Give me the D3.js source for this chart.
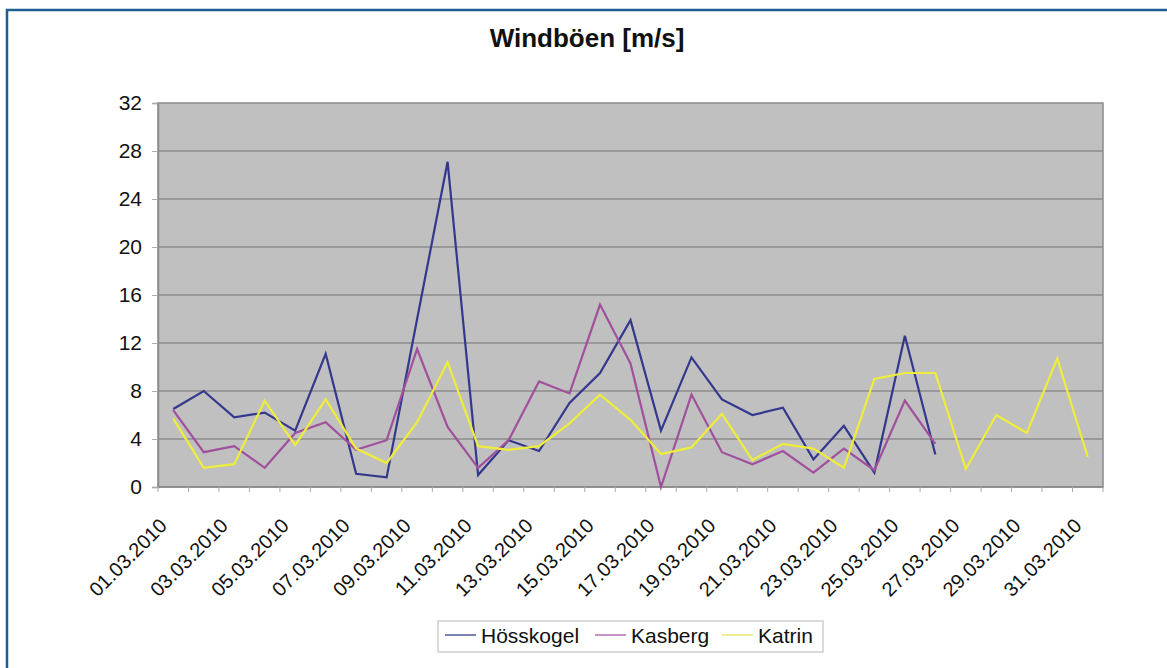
<!DOCTYPE html>
<html>
<head>
<meta charset="utf-8">
<script src="https://cdn.jsdelivr.net/npm/d3@7"></script>
<style>
  body { margin: 0; background: #fff; }
  svg { display: block; font-family: "Liberation Sans", Arial, sans-serif; }
</style>
</head>
<body>
<div id="chart"></div>
<script>
var dates = ["01.03.2010", "02.03.2010", "03.03.2010", "04.03.2010", "05.03.2010",
  "06.03.2010", "07.03.2010", "08.03.2010", "09.03.2010", "10.03.2010",
  "11.03.2010", "12.03.2010", "13.03.2010", "14.03.2010", "15.03.2010",
  "16.03.2010", "17.03.2010", "18.03.2010", "19.03.2010", "20.03.2010",
  "21.03.2010", "22.03.2010", "23.03.2010", "24.03.2010", "25.03.2010",
  "26.03.2010", "27.03.2010", "28.03.2010", "29.03.2010", "30.03.2010",
  "31.03.2010"];

var hoesskogel = [6.5, 8.0, 5.8, 6.2, 4.7, 11.1, 1.1, 0.8, 14.0, 27.1,
  1.0, 3.9, 3.0, 7.0, 9.5, 13.9, 4.7, 10.8, 7.3, 6.0,
  6.6, 2.3, 5.1, 1.2, 12.6, 2.7, null, null, null, null, null];
var kasberg = [6.4, 2.9, 3.4, 1.6, 4.5, 5.4, 3.1, 3.9, 11.5, 5.0,
  1.6, 3.9, 8.8, 7.8, 15.2, 10.3, 0.0, 7.7, 2.9, 1.9,
  3.0, 1.2, 3.2, 1.4, 7.2, 3.6, null, null, null, null, null];
var katrin = [5.7, 1.6, 1.9, 7.2, 3.5, 7.3, 3.2, 2.0, 5.4, 10.4,
  3.4, 3.1, 3.4, 5.3, 7.7, 5.6, 2.75, 3.3, 6.1, 2.25,
  3.6, 3.2, 1.6, 9.0, 9.5, 9.5, 1.5, 6.0, 4.5, 10.7, 2.5];

var seriesNames = ["Hösskogel", "Kasberg", "Katrin"];
var yTicks = [0, 4, 8, 12, 16, 20, 24, 28, 32];

function drawChart() {
  var W = 1167, H = 668,
      pLeft = 158, pRight = 1103, pTop = 103, pBottom = 487;

  var colors = ["#34388c", "#a0509c", "#eeee3a"];
  var legendColors = ["#505a9a", "#b070b0", "#e8e870"];

  var svg = d3.select("#chart").append("svg")
        .attr("width", W)
        .attr("height", H);

  // outer frame (runs off the right and bottom edge like the screenshot)
  svg.append("rect")
    .attr("x", 7).attr("y", 10)
    .attr("width", W + 20).attr("height", H + 20)
    .attr("fill", "#fff")
    .attr("stroke", "#1d5f93")
    .attr("stroke-width", 2.5);

  svg.append("text")
    .attr("x", 587).attr("y", 47)
    .attr("text-anchor", "middle")
    .attr("font-size", 26)
    .attr("font-weight", "bold")
    .attr("fill", "#111")
    .text("Windböen [m/s]");

  var x = d3.scaleBand()
        .domain(dates)
        .range([pLeft, pRight])
        .padding(0);

  var y = d3.scaleLinear()
        .domain([0, 32])
        .range([pBottom, pTop]);

  // plot area
  svg.append("rect")
    .attr("x", pLeft).attr("y", pTop)
    .attr("width", pRight - pLeft).attr("height", pBottom - pTop)
    .attr("fill", "#c0c0c0")
    .attr("stroke", "#8a8a8a")
    .attr("stroke-width", 1.5);

  // gridlines
  svg.append("g")
    .selectAll("line")
    .data(yTicks.filter((d) => d > 0 && d < 32))
    .enter().append("line")
    .attr("x1", pLeft).attr("x2", pRight)
    .attr("y1", (d) => y(d)).attr("y2", (d) => y(d))
    .attr("stroke", "#8c8c8c")
    .attr("stroke-width", 1.5);

  // y axis
  var yAxis = svg.append("g")
        .attr("transform", "translate(" + pLeft + ",0)")
        .call(d3.axisLeft(y).tickValues(yTicks).tickSize(6).tickPadding(10));
  yAxis.select(".domain").attr("stroke", "#8a8a8a").attr("stroke-width", 1.5);
  yAxis.selectAll(".tick line").attr("stroke", "#aaa");
  yAxis.selectAll(".tick text")
    .attr("font-size", 21)
    .attr("fill", "#111")
    .attr("font-family", "Liberation Sans, Arial, sans-serif");

  // x axis: ticks between categories, like Excel
  var xAxis = svg.append("g");
  xAxis.append("line")
    .attr("x1", pLeft).attr("x2", pRight)
    .attr("y1", pBottom).attr("y2", pBottom)
    .attr("stroke", "#8a8a8a")
    .attr("stroke-width", 1.5);
  xAxis.selectAll("line.tick")
    .data(dates.concat(["end"]))
    .enter().append("line")
    .attr("class", "tick")
    .attr("x1", (d, i) => pLeft + x.step() * i)
    .attr("x2", (d, i) => pLeft + x.step() * i)
    .attr("y1", pBottom).attr("y2", pBottom + 5)
    .attr("stroke", "#aaa");

  xAxis.selectAll("text")
    .data(dates.filter((d, i) => i % 2 == 0))
    .enter().append("text")
    .attr("text-anchor", "end")
    .attr("font-size", 20)
    .attr("fill", "#111")
    .attr("transform", (d) =>
      "translate(" + (x(d) + x.bandwidth() / 2 - 5) + "," + (pBottom + 40) + ")rotate(-45)")
    .text((d) => d);

  // lines
  var line = d3.line()
        .defined((d) => d != null)
        .x((d, i) => x(dates[i]) + x.bandwidth() / 2)
        .y((d) => y(d));

  var series = [hoesskogel, kasberg, katrin];
  svg.append("g")
    .selectAll("path")
    .data(series)
    .enter().append("path")
    .attr("d", line)
    .attr("fill", "none")
    .attr("stroke", (d, i) => colors[i])
    .attr("stroke-width", 2.2)
    .attr("stroke-linejoin", "miter");

  // legend
  var legend = svg.append("g");
  legend.append("rect")
    .attr("x", 438).attr("y", 621)
    .attr("width", 385).attr("height", 31)
    .attr("fill", "#fff")
    .attr("stroke", "#cfcfcf")
    .attr("stroke-width", 1.5);

  var legendX = [445, 595, 722];
  var item = legend.selectAll("g.item")
        .data(seriesNames)
        .enter().append("g")
        .attr("class", "item")
        .attr("transform", (d, i) => "translate(" + legendX[i] + ",0)");
  item.append("line")
    .attr("x1", 0).attr("x2", 31)
    .attr("y1", 635).attr("y2", 635)
    .attr("stroke", (d, i) => legendColors[i])
    .attr("stroke-width", 1.5);
  item.append("text")
    .attr("x", 36).attr("y", 643)
    .attr("font-size", 21)
    .attr("fill", "#111")
    .text((d) => d);
}

drawChart();
</script>
</body>
</html>
